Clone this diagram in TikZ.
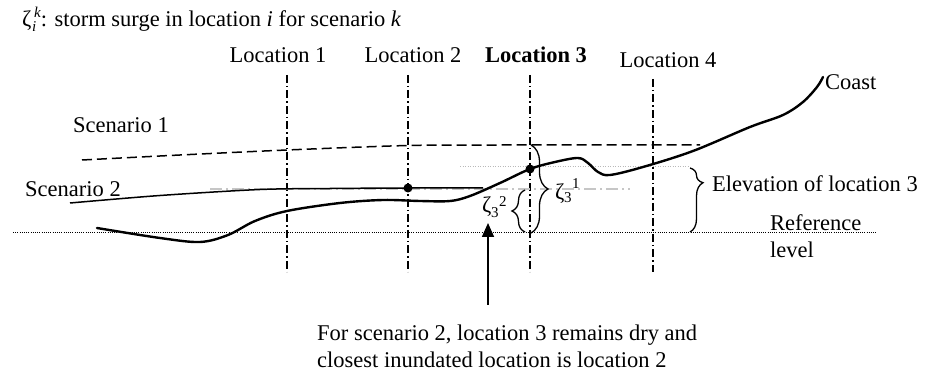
\documentclass[tikz,border=0pt]{standalone}
\usepackage{fontspec}
\setmainfont{Liberation Serif}
\usetikzlibrary{decorations.pathreplacing,arrows.meta}
\newcommand{\scr}[1]{{\fontsize{15}{15}\selectfont #1}}
\begin{document}
\begin{tikzpicture}[x=1pt,y=-1pt,
  lbl/.style={inner sep=0pt,font=\fontsize{22.5}{26}\selectfont},
  locline/.style={line width=1.3pt,dash pattern=on 8pt off 3pt on 1.5pt off 3pt},
  coastline/.style={line width=2.4pt,line cap=round},
  scentwo/.style={line width=1.5pt},
  scenone/.style={line width=1.5pt,dash pattern=on 10pt off 5pt},
  refline/.style={line width=1pt,dash pattern=on 1pt off 1.2pt},
  elevline/.style={line width=1pt,gray!55,dash pattern=on 1pt off 1.5pt},
  grayline/.style={line width=1.4pt,gray!45,dash pattern=on 12pt off 4pt on 2pt off 4pt},
  bracestyle/.style={line width=1.3pt,decorate},
  dot/.style={circle,fill=black,inner sep=0pt,minimum size=9pt},
  arrowstyle/.style={line width=1.6pt,-{Triangle[length=14pt,width=12pt]}}]
\useasboundingbox (0,0) rectangle (927,374);

% title
\node[lbl,anchor=base west] (title) at (22,27)
  {ζ\kern0.5pt\raisebox{-5pt}{\scr{\itshape i}}\kern-2pt\raisebox{9pt}{\scr{\itshape k}}: storm surge in location \textit{i} for scenario \textit{k}};

% location lines
\coordinate (l1t) at (287,75); \coordinate (l1b) at (287,272);
\coordinate (l2t) at (408,75); \coordinate (l2b) at (408,272);
\coordinate (l3t) at (530,75); \coordinate (l3b) at (530,272);
\coordinate (l4t) at (653,79); \coordinate (l4b) at (653,272);
\draw[locline] (l1t) -- (l1b);
\draw[locline] (l2t) -- (l2b);
\draw[locline] (l3t) -- (l3b);
\draw[locline] (l4t) -- (l4b);
\node[lbl,anchor=base] (loc1) at (278,63) {Location 1};
\node[lbl,anchor=base] (loc2) at (413,63) {Location 2};
\node[lbl,anchor=base] (loc3) at (536,63) {\textbf{Location 3}};
\node[lbl,anchor=base] (loc4) at (668,68) {Location 4};

% reference level
\coordinate (refl) at (13,233); \coordinate (refr) at (877,233);
\draw[refline] (refl) -- (refr);
\node[lbl,anchor=base west] (ref1) at (770,231) {Reference};
\node[lbl,anchor=base west] (ref2) at (770,258) {level};

% elevation of location 3 (gray dotted)
\coordinate (el) at (460,167); \coordinate (er) at (690,167);
\draw[elevline] (el) -- (er);

% gray dash-dot level of scenario 2
\coordinate (gl) at (210,189); \coordinate (gr) at (630,189);
\draw[grayline] (gl) -- (gr);

% scenario 1
\draw[scenone] plot[smooth,tension=0.5] coordinates {(82,160) (180,155) (287,150) (408,145.5) (500,145) (700,145)};
\node[lbl,anchor=base west] (sc1) at (73,133) {Scenario 1};

% scenario 2
\draw[scentwo] plot[smooth,tension=0.5] coordinates {(70,203) (160,195.5) (260,189.5) (330,188.5) (408,188) (483,188)};
\node[lbl,anchor=base west] (sc2) at (25,197) {Scenario 2};

% coast
\draw[coastline] plot[smooth,tension=0.55] coordinates {(97,228) (160,238) (200,242) (228,235) (255,221) (287,211) (340,203) (383,200) (420,201) (450,201) (470,196) (500,183) (530,169) (555,162) (578,158) (588,163) (598,172) (610,175) (643,167) (693,151) (750,127) (783,115) (803,102) (817,87) (823,77)};
\node[lbl,anchor=base west] (coast) at (825,90) {Coast};

% dots
\node[dot] (d2) at (408,188) {};
\node[dot] (d3) at (530,169) {};

% braces
\coordinate (b1t) at (531,145); \coordinate (b1b) at (531,233);
\draw[bracestyle,decoration={brace,amplitude=17pt}] (b1t) -- (b1b);
\node[lbl,anchor=base west] (z31) at (555,200) {ζ\kern-0.5pt\raisebox{-3pt}{\scr{3}}\kern0.5pt\raisebox{11pt}{\scr{1}}};

\coordinate (b2t) at (525,190); \coordinate (b2b) at (525,232);
\draw[bracestyle,decoration={brace,amplitude=13pt}] (b2b) -- (b2t);
\node[lbl,anchor=base west] (z32) at (482,213) {ζ\kern-0.5pt\raisebox{-5pt}{\scr{3}}\kern0.5pt\raisebox{6pt}{\scr{2}}};

\coordinate (b3t) at (690,168); \coordinate (b3b) at (690,232);
\draw[bracestyle,decoration={brace,amplitude=13pt,aspect=0.23}] (b3t) -- (b3b);
\node[lbl,anchor=base west] (elev) at (712,192) {Elevation of location 3};

% arrow and note
\coordinate (as) at (488,305); \coordinate (ae) at (488,223);
\draw[arrowstyle] (as) -- (ae);
\node[lbl,anchor=base west] (note1) at (317,341) {For scenario 2, location 3 remains dry and};
\node[lbl,anchor=base west] (note2) at (317,367) {closest inundated location is location 2};
\end{tikzpicture}
\end{document}
